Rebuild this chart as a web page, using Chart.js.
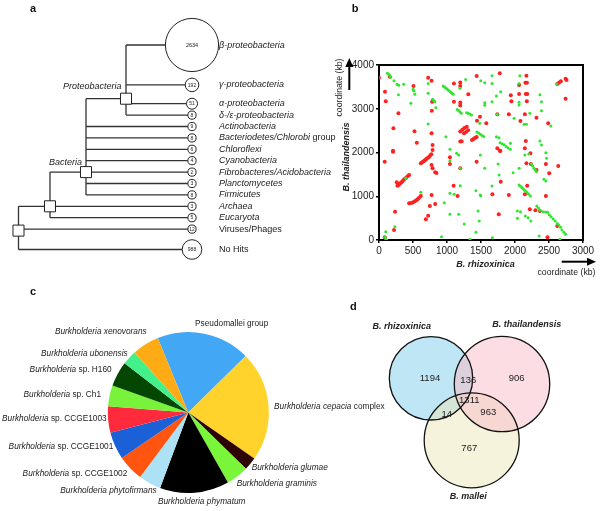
<!DOCTYPE html>
<html><head><meta charset="utf-8">
<script src="https://cdn.jsdelivr.net/npm/chart.js@4.4.1/dist/chart.umd.min.js"></script>
<style>
html,body{margin:0;padding:0;background:#fff;width:600px;height:511px;overflow:hidden;}
.p{position:absolute;}
canvas{display:block;}
</style></head><body>
<div class="p" style="left:0;top:0;"><canvas id="ca" width="340" height="280"></canvas></div>
<div class="p" style="left:300px;top:0;"><canvas id="cb" width="300" height="290"></canvas></div>
<div class="p" style="left:0;top:280px;"><canvas id="cc" width="400" height="231"></canvas></div>
<div class="p" style="left:300px;top:290px;"><canvas id="cd" width="300" height="221"></canvas></div>
<script>
// ---------------- DATA ----------------
// (a) taxonomic distribution of BLAST hits
const taxa = ['β-proteobacteria','γ-proteobacteria','α-proteobacteria','δ-/ε-proteobacteria','Actinobacteria',
  'Bacteriodetes/Chlorobi group','Chloroflexi','Cyanobacteria','Fibrobacteres/Acidobacteria','Planctomycetes',
  'Firmicutes','Archaea','Eucaryota','Viruses/Phages','No Hits'];
const hits = [2634,192,51,8,9,8,6,4,2,3,8,3,5,12,988];
const leafClade = ['P','P','P','P','B','B','B','B','B','B','B','C','C','R','R'];
const cladeNames = {P:'Proteobacteria', B:'Bacteria'};

// (b) synteny dot plot (kb): [B. rhizoxinica, B. thailandensis]
const redPoints = [[0,3710],[158,3733],[723,3710],[773,3642],[507,3520],[88,3390],[99,3170],[1102,3580],[1195,3600],[1195,3520],
 [1313,3330],[1436,3750],[782,3162],[777,2955],[1102,3162],[1195,3145],[1195,3077],[286,2895],[212,2552],[522,2484],
 [556,2225],[788,2171],[773,2438],[206,2042],[1485,2819],[1441,2727],[1195,2480],[1225,2520],[1255,2560],[1290,2590],
 [1250,2440],[1280,2470],[1310,2510],[1195,2250],[1215,2255],[1367,2285],[1390,2310],[1410,2330],[1436,2355],[788,2057],
 [1776,3810],[2168,3756],[2153,3596],[2175,3596],[2061,3543],[1938,3307],[2060,3337],[2159,3337],[2180,3337],[1947,3170],
 [2174,3170],[2744,3687],[2758,3657],[2621,3566],[2650,3600],[2675,3627],[2744,3230],[1740,2872],[1909,2872],[2145,2872],
 [2316,2796],[2080,2720],[2488,2667],[1578,2667],[2159,2263],[2145,2095],[1740,2095],[1776,2041],
 [206,2019],[84,1790],[615,1752],[635,1775],[655,1800],[675,1825],[695,1850],[715,1875],[735,1900],[755,1935],[770,1958],
 [773,1714],[788,1638],[826,1547],[846,1531],[271,1241],[290,1260],[310,1290],[330,1320],[350,1350],[370,1390],[395,1420],
 [420,1460],[443,1486],[261,1318],[443,838],[470,845],[495,855],[520,880],[545,905],[565,930],[590,965],[615,1005],
 [773,1029],[826,823],[748,777],[723,555],[689,472],[236,648],[221,229],[84,61],[1043,1890],[1043,1737],[1195,1638],
 [1436,1790],[1097,1241],[1156,1006],[1785,2034],[2227,1981],[2168,1752],[2233,1737],[2454,1737],[2636,1691],[2316,1600],
 [2503,1524],[1790,1333],[1667,1044],[1909,1029],[2145,1044],[2179,1241],[2454,1006],[2218,701],[2300,680],[2366,663],
 [1761,587],[2621,320],[2478,61]];
const greenPoints = [[124,3810],[140,3790],[156,3765],[172,3720],[221,3640],[265,3558],[290,3535],[364,3558],[286,3320],
 [502,3445],[512,3406],[527,3330],[468,3124],[723,3580],[723,3352],[944,3520],[962,3500],[980,3475],[998,3455],[1016,3430],
 [1035,3405],[1055,3380],[1073,3355],[1091,3330],[788,3215],[805,3190],[821,3162],[836,3024],[1150,2985],[1170,2960],
 [1190,2930],[1210,2900],[1289,2910],[1310,2900],[1335,2880],[1360,2857],[723,2651],[984,2361],[1043,2073],[1275,3670],
 [1190,3467],[1662,3756],[2071,3756],[1496,3642],[1555,3596],[1662,3580],[2061,3580],[1790,3390],[1726,3291],[1555,3139],
 [1555,3078],[1662,3162],[2060,3147],[2060,3086],[2366,3322],[2389,3162],[2389,2955],[2218,2895],[1987,2781],[1740,2872],
 [2134,2644],[2168,2644],[1481,2667],[2528,2605],[1440,2470],[1465,2445],[1490,2415],[1515,2390],[1540,2365],[1726,2361],
 [1765,2340],[1780,2224],[1810,2200],[1840,2175],[1870,2140],[1900,2105],[1932,2073],[1932,2210],[2366,2263],[2389,2171],
 [2616,3566],[1043,1810],[1141,1981],[1171,1943],[1195,1638],[394,1410],[615,1090],[959,853],[1043,1067],[1106,1044],
 [1195,1241],[1426,1127],[1490,1029],[1043,587],[1171,587],[1254,366],[1426,176],[1475,434],[920,76],[1338,16],[99,190],
 [232,305],[114,0],[84,61],[100,20],[1490,1943],[2145,1943],[2203,1966],[2454,1996],[2464,1867],[1751,1737],[1555,1638],
 [1972,1539],[2060,1638],[2242,1737],[2260,1690],[2280,1640],[2300,1600],[2316,1562],[2425,1387],[2454,1349],[1766,1486],
 [1662,1234],[1496,1013],[2060,1257],[2080,1230],[2100,1200],[2120,1170],[2140,1140],[2160,1110],[2180,1080],[2200,1045],
 [2227,1006],[1456,663],[2035,663],[2080,648],[2153,549],[2193,510],[2233,434],[2035,495],[2320,777],[2345,730],[2366,686],
 [2414,648],[2450,640],[2478,633],[2503,580],[2530,533],[2562,480],[2590,434],[2621,380],[2645,343],[2670,290],[2690,229],
 [2720,175],[2744,130],[2355,91],[2660,16],[1667,53]];
const xTicksB = [0,500,1000,1500,2000,2500,3000];
const yTicksB = [0,1000,2000,3000,4000];

// (c) best hits by Burkholderia species (share of genes, %)
const pieGroups = ['Pseudomallei group','Burkholderia cepacia complex','Burkholderia glumae','Burkholderia graminis',
  'Burkholderia phymatum','Burkholderia phytofirmans','Burkholderia sp. CCGE1002','Burkholderia sp. CCGE1001',
  'Burkholderia sp. CCGE1003','Burkholderia sp. Ch1','Burkholderia sp. H160','Burkholderia ubonensis','Burkholderia xenovorans'];
const pieShares = [18.8,22.1,2.6,4.5,13.9,4.5,5.25,5.5,5.3,4.2,5.0,2.9,5.45];
const pieColors = ['#42a8f6','#ffd22c','#2e0303','#7af63a','#000000','#ade1f6','#ff5511','#1b60d6','#ff2a3c','#78f23a','#034703','#43f08a','#ffab16'];

// (d) Venn diagram of shared genes
const vennSets = ['B. rhizoxinica','B. thailandensis','B. mallei'];
const vennRegions = ['R','T','M','RT','RM','TM','RTM'];
const vennCounts = [1194,906,767,136,14,963,1311];

// ---------------- HELPERS ----------------
const FF = '"Liberation Sans", Arial, Helvetica, sans-serif';
Chart.defaults.font.family = FF;
Chart.defaults.color = '#222';
Chart.defaults.animation = false;
Chart.defaults.responsive = false;
Chart.defaults.plugins.legend.display = false;
Chart.defaults.plugins.tooltip.enabled = false;
const TXT = '#222';

// italic until a "stop" word (sp., group, complex); some names fully upright
function richParts(name, size, bold){
  const w = bold ? 'bold ' : '';
  const upright = ['Pseudomallei group','Viruses/Phages','No Hits'];
  if (upright.includes(name)) return [[name, w + size + 'px ' + FF]];
  const words = name.split(' ');
  let k = words.findIndex(t => t === 'sp.' || t === 'group' || t === 'complex');
  if (k < 0) k = words.length;
  const it = words.slice(0,k).join(' ');
  const rest = words.slice(k).join(' ');
  const parts = [[it, 'italic ' + w + size + 'px ' + FF]];
  if (rest) parts.push([' ' + rest, w + size + 'px ' + FF]);
  return parts;
}
function drawRich(ctx, parts, x, y, align){
  let total = 0;
  parts.forEach(p => { ctx.font = p[1]; total += ctx.measureText(p[0]).width; });
  let cx = align === 'right' ? x - total : align === 'center' ? x - total/2 : x;
  ctx.textAlign = 'left'; ctx.textBaseline = 'middle';
  parts.forEach(p => { ctx.font = p[1]; ctx.fillText(p[0], cx, y); cx += ctx.measureText(p[0]).width; });
}
function panelLetter(ctx, t, x, y){
  ctx.save(); ctx.fillStyle = '#111'; ctx.font = 'bold 11px ' + FF; ctx.textAlign = 'center'; ctx.textBaseline = 'middle';
  ctx.fillText(t, x, y); ctx.restore();
}

// ---------------- (a) TREE ----------------
(function(){
  const leafX = 192, labelX = 219, rowGap = 11.4, firstRow = 45;
  const nodeX = {P:126, B:86, C:50, R:18.5};
  const circleR = n => n >= 2000 ? 26.6 : n >= 500 ? 9.8 : n >= 100 ? 6.8 : n >= 30 ? 5.5 : 4.1;
  const leafR = hits.map(circleR);
  const rowY = [];
  let y = firstRow;
  hits.forEach((n,i) => {
    if (i > 0) { const s = leafR[i-1] + leafR[i]; y += s < 10 ? rowGap : s + 6.5; }
    rowY.push(y);
  });
  const rowsOf = k => rowY.filter((_,i) => leafClade[i] === k);
  const nodeY = {P: rowY[2] - 5, B: rowsOf('B')[4], C: rowsOf('C')[0], R: rowsOf('R')[0] + 1.5};
  const parentOf = {P:'B', B:'C', C:'R'};
  const edges = [];
  const seg = (x1,y1,x2,y2) => edges.push({x:x1,y:y1},{x:x2,y:y2},{x:null,y:null});
  taxa.forEach((t,i) => seg(nodeX[leafClade[i]], rowY[i], leafX - leafR[i], rowY[i]));
  ['P','B','C','R'].forEach(k => {
    const ys = rowsOf(k);
    Object.keys(parentOf).forEach(c => { if (parentOf[c] === k) ys.push(nodeY[c]); });
    seg(nodeX[k], Math.min(...ys), nodeX[k], Math.max(...ys));
    if (parentOf[k]) seg(nodeX[parentOf[k]], nodeY[k], nodeX[k], nodeY[k]);
  });
  const circles = hits.map((n,i) => ({x: leafX, y: rowY[i]}));
  const boxes = ['P','B','C','R'].map(k => ({x: nodeX[k], y: nodeY[k]}));

  const treeText = {id:'treeText', afterDatasetsDraw(chart){
    const ctx = chart.ctx, sx = chart.scales.x, sy = chart.scales.y;
    ctx.save(); ctx.fillStyle = TXT;
    hits.forEach((n,i) => {
      ctx.font = (leafR[i] > 20 ? 5.5 : 5) + 'px ' + FF; ctx.textAlign = 'center'; ctx.textBaseline = 'middle';
      ctx.fillText(String(n), sx.getPixelForValue(leafX), sy.getPixelForValue(rowY[i]) + 0.3);
      drawRich(ctx, richParts(taxa[i], 9), sx.getPixelForValue(labelX), sy.getPixelForValue(rowY[i]), 'left');
    });
    ctx.font = 'italic 9px ' + FF; ctx.textAlign = 'right'; ctx.textBaseline = 'middle';
    ctx.fillText(cladeNames.P, sx.getPixelForValue(nodeX.P - 4.5), sy.getPixelForValue(nodeY.P - 12.5));
    ctx.fillText(cladeNames.B, sx.getPixelForValue(nodeX.B - 4), sy.getPixelForValue(nodeY.B - 9.5));
    ctx.restore();
    panelLetter(ctx, 'a', 33, 8.5);
  }};

  new Chart(document.getElementById('ca'), {
    type: 'scatter',
    data: {datasets: [
      {data: boxes, pointStyle: 'rect', pointRadius: 7.8, pointHoverRadius: 7.8, backgroundColor: '#fff', borderColor: '#222', borderWidth: 1},
      {data: circles, pointRadius: c => leafR[c.dataIndex], pointHoverRadius: c => leafR[c.dataIndex], backgroundColor: '#fff', borderColor: '#222', borderWidth: 1},
      {data: edges, showLine: true, spanGaps: false, pointRadius: 0, borderColor: '#333', borderWidth: 1.3}
    ]},
    options: {
      layout: {padding: 0, autoPadding: false},
      scales: {x: {type: 'linear', min: 0, max: 340, display: false}, y: {type: 'linear', min: 0, max: 280, reverse: true, display: false}},
      plugins: {legend: {display: false}}
    },
    plugins: [treeText]
  });
})();

// ---------------- (b) DOT PLOT ----------------
(function(){
  const toXY = a => a.map(p => ({x: p[0], y: p[1]}));
  const deco = {id:'bDeco', afterDraw(chart){
    const ctx = chart.ctx, ca = chart.chartArea;
    ctx.save();
    ctx.strokeStyle = '#000'; ctx.lineWidth = 2;
    ctx.beginPath(); ctx.moveTo(ca.left - 1, ca.top); ctx.lineTo(ca.right, ca.top); ctx.lineTo(ca.right, ca.bottom + 1); ctx.stroke();
    ctx.fillStyle = TXT;
    // y titles
    ctx.save(); ctx.translate(ca.left - 32.3, 157); ctx.rotate(-Math.PI/2);
    ctx.font = 'bold italic 9px ' + FF; ctx.textAlign = 'center'; ctx.textBaseline = 'middle';
    ctx.fillText('B. thailandensis', 0, 0); ctx.restore();
    ctx.save(); ctx.translate(ca.left - 39.7, 87.5); ctx.rotate(-Math.PI/2);
    ctx.font = '8.7px ' + FF; ctx.textAlign = 'center'; ctx.textBaseline = 'middle';
    ctx.fillText('coordinate (kb)', 0, 0); ctx.restore();
    // y arrow
    ctx.fillStyle = '#000'; ctx.strokeStyle = '#000'; ctx.lineWidth = 2;
    ctx.beginPath(); ctx.moveTo(ca.left - 29.7, 90); ctx.lineTo(ca.left - 29.7, 64); ctx.stroke();
    ctx.beginPath(); ctx.moveTo(ca.left - 29.7, 58); ctx.lineTo(ca.left - 33.7, 67); ctx.lineTo(ca.left - 25.7, 67); ctx.closePath(); ctx.fill();
    // x titles
    ctx.fillStyle = TXT;
    ctx.font = 'bold italic 9px ' + FF; ctx.textAlign = 'center'; ctx.textBaseline = 'middle';
    ctx.fillText('B. rhizoxinica', 185.5, 265);
    ctx.font = '8.7px ' + FF; ctx.fillText('coordinate (kb)', 266.5, 272.7);
    ctx.fillStyle = '#000';
    ctx.beginPath(); ctx.moveTo(261.7, 261.7); ctx.lineTo(289, 261.7); ctx.stroke();
    ctx.beginPath(); ctx.moveTo(296, 261.7); ctx.lineTo(287, 257.7); ctx.lineTo(287, 265.7); ctx.closePath(); ctx.fill();
    ctx.restore();
    panelLetter(ctx, 'b', 55, 8.5);
  }};
  const axisCommon = {
    type: 'linear',
    grid: {display: true, drawOnChartArea: false, drawTicks: true, tickLength: 3, color: '#000', lineWidth: 1.5},
    border: {display: true, color: '#000', width: 2}
  };
  new Chart(document.getElementById('cb'), {
    type: 'scatter',
    data: {datasets: [
      {data: toXY(greenPoints), pointStyle: 'circle', pointRadius: 1.5, pointHoverRadius: 1.5, backgroundColor: '#2fe62f', borderWidth: 0},
      {data: toXY(redPoints), pointStyle: 'circle', pointRadius: 2.0, pointHoverRadius: 2.0, backgroundColor: '#ff2020', borderWidth: 0}
    ]},
    options: {
      layout: {padding: {top: 65, right: 17, left: 39, bottom: 28}, autoPadding: false},
      scales: {
        x: Object.assign({}, axisCommon, {min: 0, max: 3000,
          afterFit: s => { s.height = 22; },
          afterBuildTicks: s => { s.ticks = xTicksB.map(v => ({value: v})); },
          ticks: {font: {size: 10}, color: TXT, padding: 2, maxRotation: 0, callback: v => String(v)}}),
        y: Object.assign({}, axisCommon, {min: 0, max: 4000,
          afterFit: s => { s.width = 40; },
          afterBuildTicks: s => { s.ticks = yTicksB.map(v => ({value: v})); },
          ticks: {font: {size: 10}, color: TXT, padding: 2, callback: v => String(v)}})
      }
    },
    plugins: [deco]
  });
})();

// ---------------- (c) PIE ----------------
(function(){
  // label anchors (canvas px) and alignment, in slice order
  const labelPos = [[195,43.3,'left'],[274,126.7,'left'],[251.7,187.7,'left'],[236.7,204,'left'],[201.7,221.7,'center'],
    [156.7,211,'right'],[127.3,193.3,'right'],[113.3,166.7,'right'],[106.7,139,'right'],[101,115,'right'],
    [111.7,90,'right'],[127.7,73.3,'right'],[146.7,51.7,'right']];
  const pieText = {id:'pieText', afterDraw(chart){
    const ctx = chart.ctx;
    ctx.save(); ctx.fillStyle = TXT;
    pieGroups.forEach((g,i) => drawRich(ctx, richParts(g, 8.3), labelPos[i][0], labelPos[i][1], labelPos[i][2]));
    ctx.restore();
    panelLetter(ctx, 'c', 33, 11.7);
  }};
  new Chart(document.getElementById('cc'), {
    type: 'pie',
    data: {labels: pieGroups, datasets: [{data: pieShares, backgroundColor: pieColors, borderWidth: 0, hoverOffset: 0}]},
    options: {rotation: -22.3, layout: {padding: {left: 107.8, top: 52, right: 131.2, bottom: 18}, autoPadding: false}},
    plugins: [pieText]
  });
})();

// ---------------- (d) VENN ----------------
(function(){
  const circ = [{x:131, y:88.3, r:41.7}, {x:202, y:94, r:47.7}, {x:171.7, y:150.3, r:47.5}];
  const regionPos = {R:[130,88.3], T:[216.7,88], M:[169.3,158.3], RT:[168.3,90], RM:[146.7,124], TM:[188.3,122.7], RTM:[169.3,110]};
  const setLabelPos = [[101.7,36.7],[226.7,34.3],[168.3,206.7]];
  const vennText = {id:'vennText', afterDatasetsDraw(chart){
    const ctx = chart.ctx, sx = chart.scales.x, sy = chart.scales.y;
    ctx.save(); ctx.fillStyle = TXT; ctx.textAlign = 'center'; ctx.textBaseline = 'middle';
    ctx.font = '9.5px ' + FF;
    vennRegions.forEach((k,i) => ctx.fillText(String(vennCounts[i]), sx.getPixelForValue(regionPos[k][0]), sy.getPixelForValue(regionPos[k][1])));
    ctx.font = 'bold italic 9px ' + FF;
    vennSets.forEach((s,i) => ctx.fillText(s, sx.getPixelForValue(setLabelPos[i][0]), sy.getPixelForValue(setLabelPos[i][1])));
    ctx.restore();
    panelLetter(ctx, 'd', 53.3, 16.7);
  }};
  new Chart(document.getElementById('cd'), {
    type: 'bubble',
    data: {datasets: [
      {data: circ, backgroundColor: 'rgba(0,0,0,0)', borderColor: '#111', borderWidth: 1.3, hoverBorderWidth: 1.3},
      {data: [circ[1]], backgroundColor: 'rgba(249,187,199,0.5)', borderWidth: 0},
      {data: [circ[2]], backgroundColor: 'rgba(237,231,185,0.5)', borderWidth: 0},
      {data: [circ[0]], backgroundColor: 'rgba(127,205,233,0.5)', borderWidth: 0}
    ]},
    options: {
      layout: {padding: 0, autoPadding: false},
      scales: {x: {type: 'linear', min: 0, max: 300, display: false}, y: {type: 'linear', min: 0, max: 221, reverse: true, display: false}}
    },
    plugins: [vennText]
  });
})();
</script>
</body></html>
